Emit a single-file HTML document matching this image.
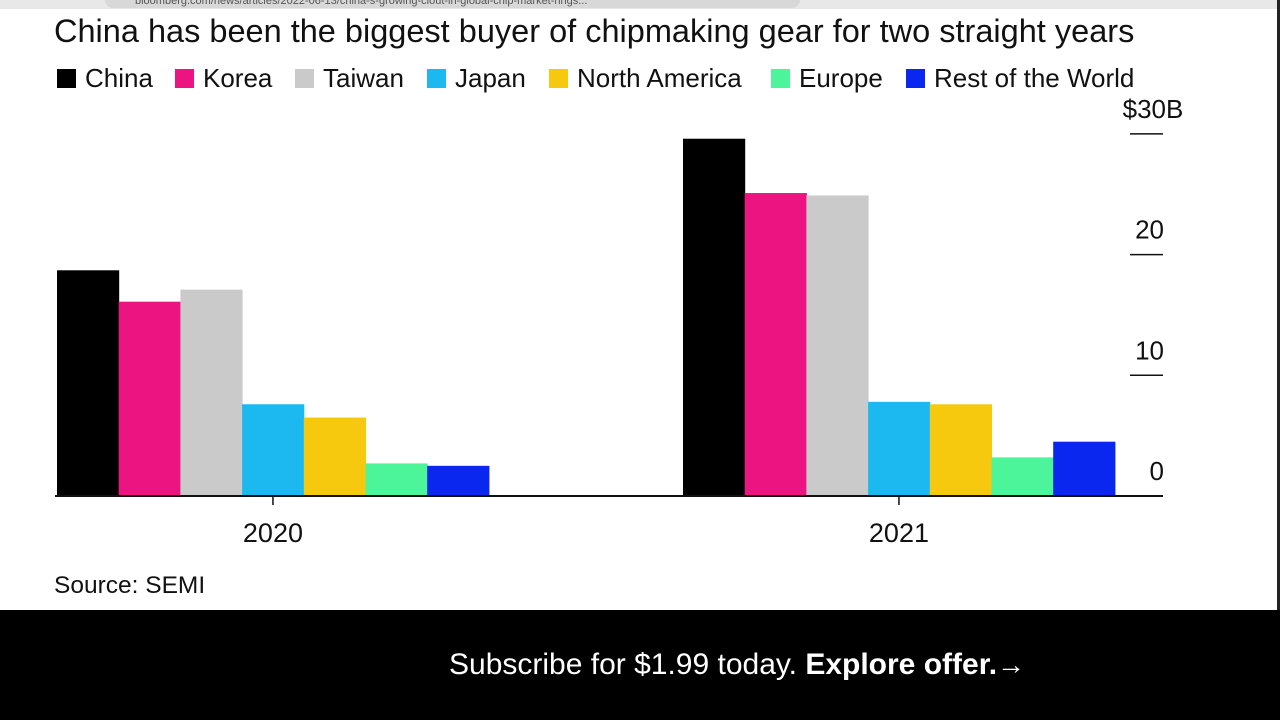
<!DOCTYPE html>
<html><head><meta charset="utf-8"><style>
body{margin:0;width:1280px;height:720px;overflow:hidden;background:#fff;font-family:"Liberation Sans",sans-serif;position:relative}
.abs{position:absolute}
.leg{position:absolute;top:63px;font-size:26px;color:#111;white-space:nowrap;line-height:30px}
.sw{position:absolute;top:6px;left:0;width:19px;height:19px}
.leg span.t{position:absolute;left:28px;top:0}
</style></head><body>
<div class="abs" style="left:0;top:0;width:1280px;height:9px;background:#e8e8e8"></div>
<div class="abs" style="left:105px;top:0;width:665px;height:8px;background:#d8d8d8;border-radius:0 0 8px 8px;font-size:11px;color:#555;overflow:hidden;line-height:2px;padding-left:30px">bloomberg.com/news/articles/2022-06-13/china-s-growing-clout-in-global-chip-market-rings...</div>
<div class="abs" style="left:1277px;top:0;width:3px;height:720px;background:#222"></div>
<div class="abs" style="left:54px;top:13px;font-size:32.5px;color:#111;white-space:nowrap">China has been the biggest buyer of chipmaking gear for two straight years</div>
<div id="legend"></div>
<svg id="chart" class="abs" style="left:0;top:0" width="1280" height="610"></svg>
<div class="abs" style="left:54px;top:572px;font-size:24.5px;color:#111">Source: SEMI</div>
<div class="abs" style="left:0;top:610px;width:1280px;height:110px;background:#000"></div>
<div class="abs" style="left:449px;top:648px;font-size:30px;color:#fff;white-space:nowrap">Subscribe for $1.99 today. <b>Explore offer.</b><span style="font-size:28px">→</span></div>
<script>
const categories=["2020","2021"];
const seriesNames=["China","Korea","Taiwan","Japan","North America","Europe","Rest of the World"];
const seriesColors=["#000000","#ec1480","#cacaca","#1cb8f0","#f6c90e","#4cf59a","#0a27f0"];
const china=[18.7,29.6];
const korea=[16.1,25.1];
const taiwan=[17.1,24.9];
const japan=[7.6,7.8];
const northAmerica=[6.5,7.6];
const europe=[2.7,3.2];
const restOfWorld=[2.5,4.5];
const yTicks=[0,10,20,30];
const yTickLabels=["0","10","20","$30B"];
const series=[china,korea,taiwan,japan,northAmerica,europe,restOfWorld];
const NS="http://www.w3.org/2000/svg";
const svg=document.getElementById('chart');
const y0=496,pxPer=12.07;
const y=v=>y0-v*pxPer;
const groupStart=[57,683],barW=61.7;
const x=(g,s)=>groupStart[g]+s*barW;
function mk(tag,attrs){const e=document.createElementNS(NS,tag);for(const k in attrs)e.setAttribute(k,attrs[k]);svg.appendChild(e);return e;}
series.forEach((vals,s)=>{vals.forEach((v,g)=>{
 const r=mk('rect',{x:x(g,s),y:y(v),width:barW+0.5,height:v*pxPer,fill:seriesColors[s]});
 
 
});});
const base=mk('line',{x1:55,x2:1163,y1:y0,y2:y0,stroke:'#111','stroke-width':2});


categories.forEach((c,g)=>{
 const cx=groupStart[g]+barW*3.5;
 const tk=mk('line',{x1:cx,x2:cx,y1:y0,y2:y0+9,stroke:'#111','stroke-width':1.5});
 
 
 const t=mk('text',{x:cx,y:542,'text-anchor':'middle','font-size':27,fill:'#111','font-family':'Liberation Sans'});
 t.textContent=c;
 
 
});
yTicks.forEach((v,i)=>{
 if(v>0){const l=mk('line',{x1:1130,x2:1163,y1:y(v),y2:y(v),stroke:'#111','stroke-width':1.5});
 
 }
 const last=i===yTicks.length-1;
 const t=mk('text',{x:last?1153:1164,y:y(v)-16,'text-anchor':last?'middle':'end','font-size':26,fill:'#111','font-family':'Liberation Sans'});
 t.textContent=yTickLabels[i];
 
 
});
const legX=[57,175,295,427,549,771,906];
const leg=document.getElementById('legend');
seriesNames.forEach((n,i)=>{
 const d=document.createElement('div');d.className='leg';d.style.left=legX[i]+'px';
 
 
 d.innerHTML='<div class="sw" style="background:'+seriesColors[i]+'"></div><span class="t">'+n+'</span>';
 leg.appendChild(d);
});
</script>
</body></html>
